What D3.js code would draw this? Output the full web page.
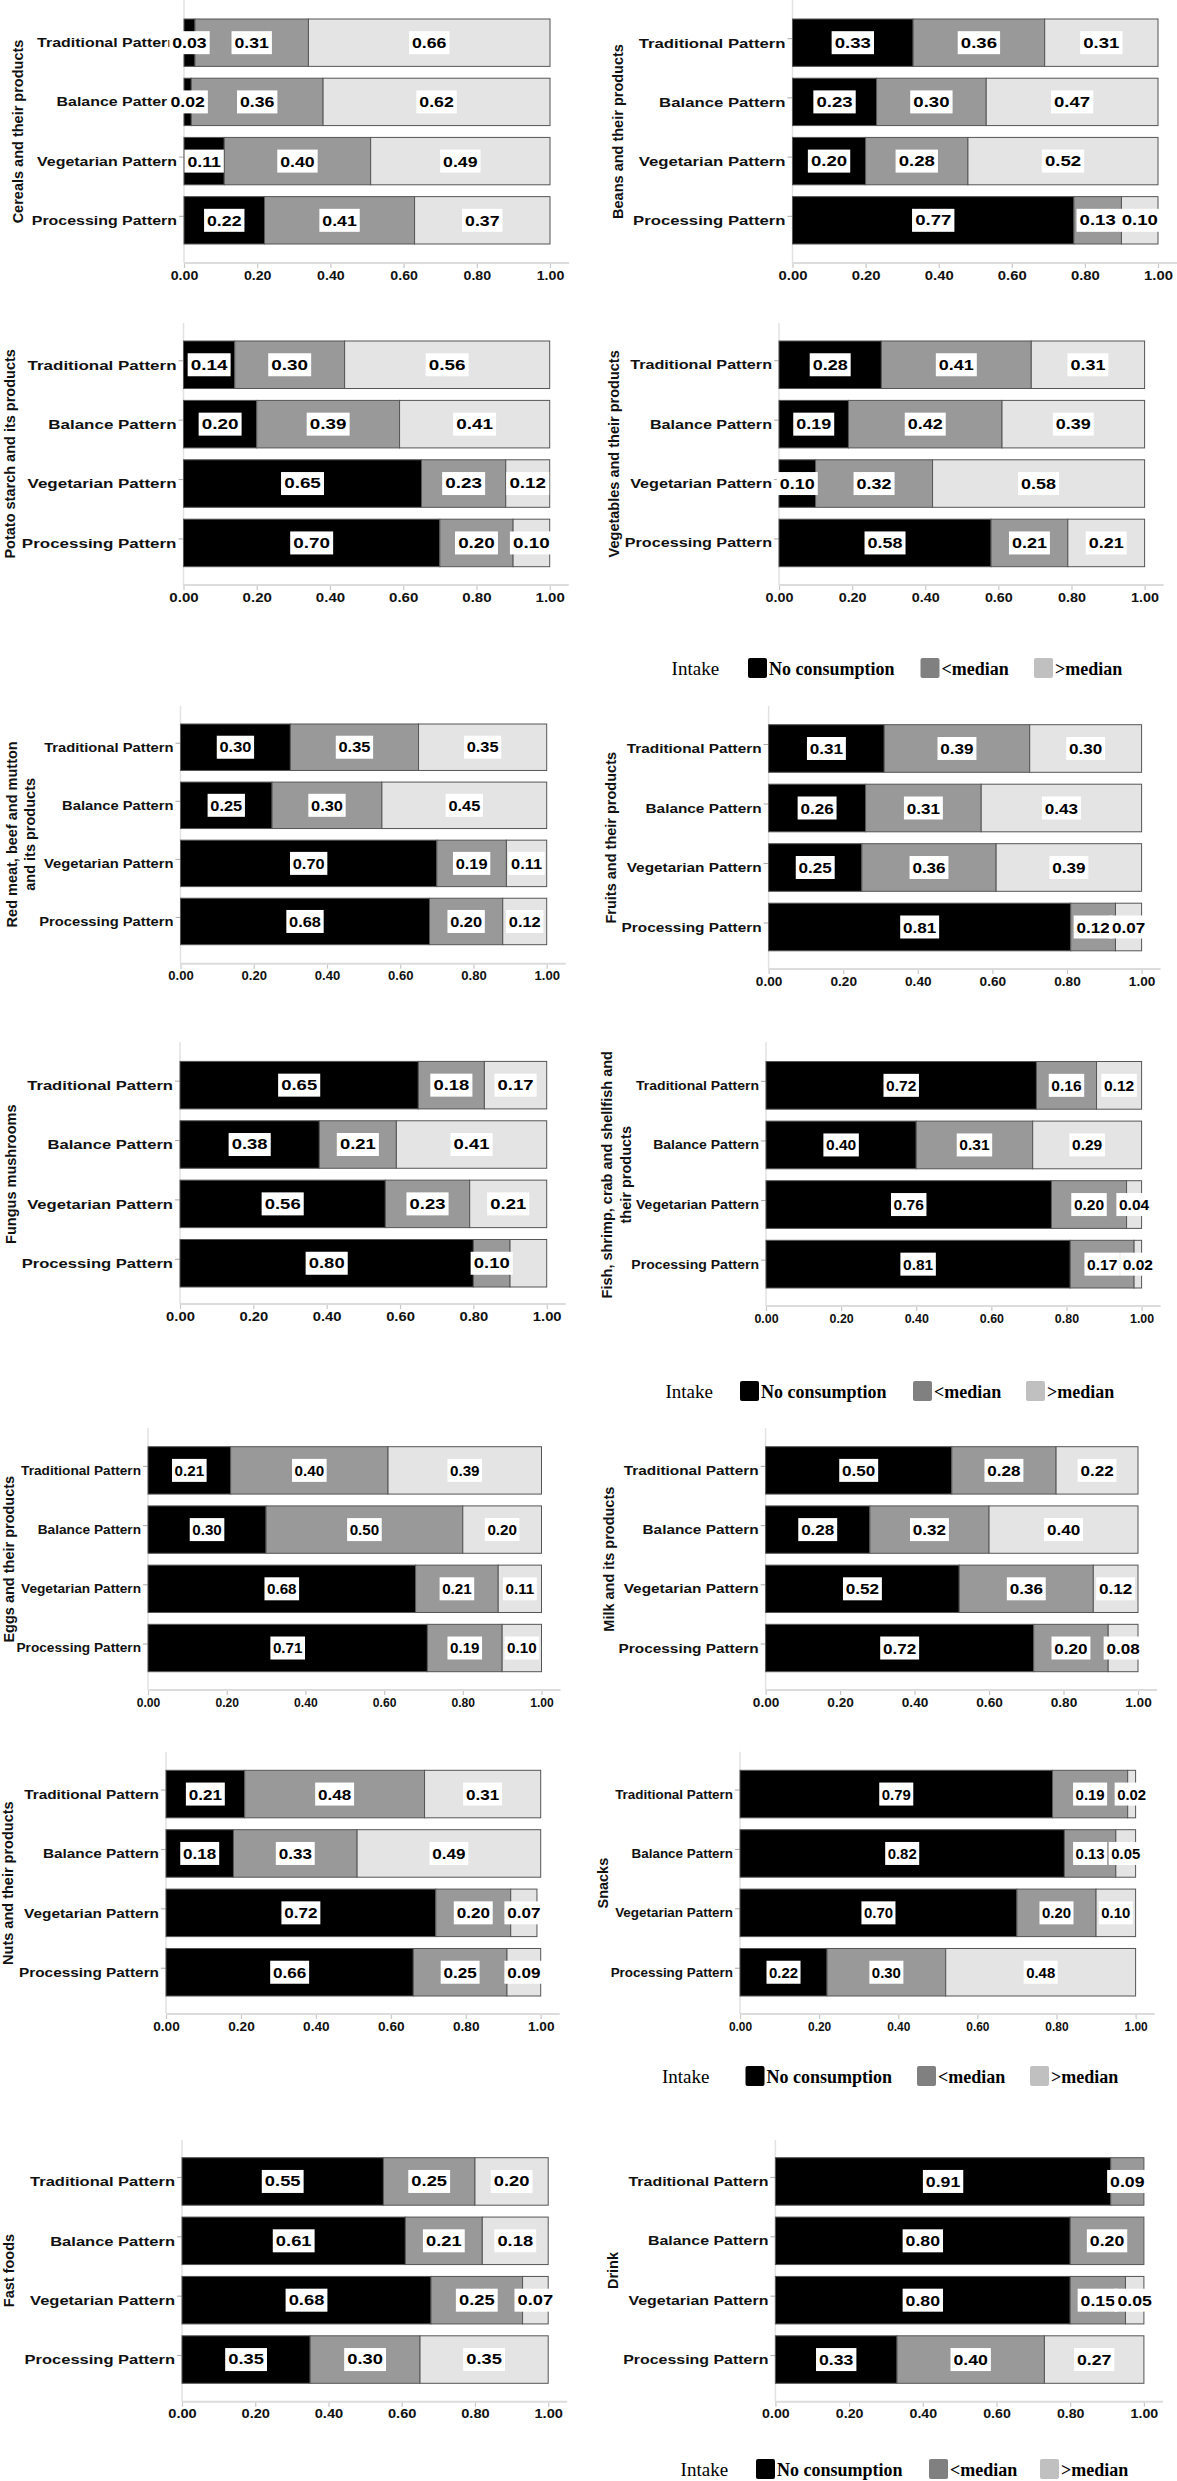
<!DOCTYPE html>
<html><head><meta charset="utf-8">
<script src="https://cdn.jsdelivr.net/npm/d3@7"></script>
<style>body{margin:0;background:#fff} svg{display:block}</style>
</head><body>
<svg id="chart" width="1177" height="2481"></svg>
<script>
// ---------------- DATA ----------------
const patterns = ["Traditional Pattern","Balance Pattern","Vegetarian Pattern","Processing Pattern"];
const intakeLevels = ["No consumption","<median",">median"];
const xTicks = [0,0.2,0.4,0.6,0.8,1.0];
const foodGroups = [
  "Cereals and their products",
  "Beans and their products",
  "Potato starch and its products",
  "Vegetables and their products",
  "Red meat, beef and mutton\nand its products",
  "Fruits and their products",
  "Fungus mushrooms",
  "Fish, shrimp, crab and shellfish and\ntheir products",
  "Eggs and their products",
  "Milk and its products",
  "Nuts and their products",
  "Snacks",
  "Fast foods",
  "Drink"
];
// rows: Traditional, Balance, Vegetarian, Processing ; columns: No consumption, <median, >median
const cereals    = [[0.03,0.31,0.66],[0.02,0.36,0.62],[0.11,0.40,0.49],[0.22,0.41,0.37]];
const beans      = [[0.33,0.36,0.31],[0.23,0.30,0.47],[0.20,0.28,0.52],[0.77,0.13,0.10]];
const potato     = [[0.14,0.30,0.56],[0.20,0.39,0.41],[0.65,0.23,0.12],[0.70,0.20,0.10]];
const vegetables = [[0.28,0.41,0.31],[0.19,0.42,0.39],[0.10,0.32,0.58],[0.58,0.21,0.21]];
const redMeat    = [[0.30,0.35,0.35],[0.25,0.30,0.45],[0.70,0.19,0.11],[0.68,0.20,0.12]];
const fruits     = [[0.31,0.39,0.30],[0.26,0.31,0.43],[0.25,0.36,0.39],[0.81,0.12,0.07]];
const fungus     = [[0.65,0.18,0.17],[0.38,0.21,0.41],[0.56,0.23,0.21],[0.80,0.10,0.10]];
const fish       = [[0.72,0.16,0.12],[0.40,0.31,0.29],[0.76,0.20,0.04],[0.81,0.17,0.02]];
const eggs       = [[0.21,0.40,0.39],[0.30,0.50,0.20],[0.68,0.21,0.11],[0.71,0.19,0.10]];
const milk       = [[0.50,0.28,0.22],[0.28,0.32,0.40],[0.52,0.36,0.12],[0.72,0.20,0.08]];
const nuts       = [[0.21,0.48,0.31],[0.18,0.33,0.49],[0.72,0.20,0.07],[0.66,0.25,0.09]];
const snacks     = [[0.79,0.19,0.02],[0.82,0.13,0.05],[0.70,0.20,0.10],[0.22,0.30,0.48]];
const fastFoods  = [[0.55,0.25,0.20],[0.61,0.21,0.18],[0.68,0.25,0.07],[0.35,0.30,0.35]];
const drink      = [[0.91,0.09,0.00],[0.80,0.20,0.00],[0.80,0.15,0.05],[0.33,0.40,0.27]];
const panelValues = [cereals,beans,potato,vegetables,redMeat,fruits,fungus,fish,eggs,milk,nuts,snacks,fastFoods,drink];
// segments whose value label is not printed in the original: [panel index, row, level]
const unlabeled = [[6,3,2]];

// ---------------- LAYOUT ----------------
const layout = [
  {x0:184,  x1:550,  yTop:19,    yBot:244,   axisY:263,   yAxisTop:0,      titleX:[18],       labelW:140},
  {x0:792.5,x1:1158, yTop:19,    yBot:244,   axisY:263,   yAxisTop:0,      titleX:[618],      labelW:147},
  {x0:183.5,x1:549.7,yTop:341,   yBot:566.7, axisY:585,   yAxisTop:323,    titleX:[9.5],      labelW:149},
  {x0:779,  x1:1144.6,yTop:341,  yBot:566.7, axisY:585,   yAxisTop:323,    titleX:[614],      labelW:142},
  {x0:180.5,x1:546.7,yTop:724,   yBot:944.7, axisY:963.7, yAxisTop:706,    titleX:[12,29.5],  labelW:129.5},
  {x0:768.6,x1:1141.6,yTop:724.7,yBot:950.8, axisY:969,   yAxisTop:706,    titleX:[611],      labelW:135},
  {x0:180,  x1:546.7,yTop:1061.4,yBot:1287,  axisY:1304,  yAxisTop:1042,   titleX:[11.3],     labelW:146},
  {x0:766,  x1:1141.6,yTop:1061.5,yBot:1288, axisY:1306,  yAxisTop:1042,   titleX:[607,626],  labelW:123},
  {x0:148,  x1:541.5,yTop:1446.7,yBot:1671.7,axisY:1690,  yAxisTop:1428,   titleX:[8.5],      labelW:120},
  {x0:765.6,x1:1138, yTop:1446.7,yBot:1671.7,axisY:1690,  yAxisTop:1428,   titleX:[609],      labelW:135},
  {x0:166,  x1:540.7,yTop:1770.3,yBot:1996,  axisY:2014,  yAxisTop:1751.7, titleX:[8.3],      labelW:135},
  {x0:740,  x1:1135.6,yTop:1770.3,yBot:1996, axisY:2014,  yAxisTop:1751.7, titleX:[602.5],    labelW:118},
  {x0:182,  x1:548.2,yTop:2157.7,yBot:2383.3,axisY:2401.7,yAxisTop:2140,   titleX:[9],        labelW:145},
  {x0:775.4,x1:1143.9,yTop:2157.7,yBot:2383.3,axisY:2401.7,yAxisTop:2140,  titleX:[613],      labelW:140}
];
const legends = [
  {cy:668,  intakeX:671.6, sw:[748,920.5,1034]},
  {cy:1391, intakeX:665.5, sw:[740,913,1026]},
  {cy:2076, intakeX:662,   sw:[745.5,917,1030]},
  {cy:2469, intakeX:680.6, sw:[756,929,1040]}
];

const SANS = "'Liberation Sans', Arial, Helvetica, sans-serif";
const SERIF = "'Liberation Serif', 'Times New Roman', serif";
const segFill = ["#000000","#999999","#e4e4e4"];
const legFill = ["#000000","#808080","#c0c0c0"];

const svg = d3.select("#chart");
svg.append("rect").attr("width",1177).attr("height",2481).attr("fill","#fff");

const meas = svg.append("text").attr("font-family",SANS).attr("font-weight","bold")
  .attr("font-size",13.5).text("Traditional Pattern");
const natW = meas.node().getComputedTextLength();
meas.remove();

const fmt = d3.format(".2f");
const stack = d3.stack().keys([0,1,2]);

panelValues.forEach((vals, pi) => {
  const L = layout[pi];
  const sx = L.labelW / natW;
  const x = d3.scaleLinear().domain([0,1]).range([L.x0, L.x1]);
  const y = d3.scaleBand().domain(patterns).range([L.yTop, L.yBot]).paddingInner(0.2).paddingOuter(0);
  const bw = y.bandwidth();
  const g = svg.append("g");

  // vertical axis line
  g.append("line").attr("x1",L.x0).attr("x2",L.x0).attr("y1",L.yAxisTop).attr("y2",L.axisY)
    .attr("stroke","#e2e2e2").attr("stroke-width",1.5);

  // x axis
  const ax = g.append("g").attr("transform",`translate(0,${L.axisY})`)
    .call(d3.axisBottom(x).tickValues(xTicks).tickFormat(fmt).tickSize(5).tickSizeOuter(0));
  ax.select(".domain").remove();
  ax.append("line").attr("x1",L.x0).attr("x2",Math.min(L.x1+19,1177)).attr("y1",0).attr("y2",0)
    .attr("stroke","#dcdcdc").attr("stroke-width",2);
  ax.selectAll(".tick line").attr("stroke","#c8c8c8").attr("stroke-width",1.2);
  ax.selectAll(".tick text").attr("font-family",SANS).attr("font-weight","bold")
    .attr("font-size",12).attr("fill","#111").attr("transform",`scale(${sx},1)`);

  // category labels + ticks
  patterns.forEach(pat => {
    const yc = y(pat) + bw/2;
    g.append("line").attr("x1",L.x0-5).attr("x2",L.x0).attr("y1",yc-4).attr("y2",yc-4)
      .attr("stroke","#aaa").attr("stroke-width",1);
    g.append("text").attr("transform",`translate(${L.x0-7},${yc}) scale(${sx},1)`)
      .attr("text-anchor","end").attr("dominant-baseline","central")
      .attr("font-family",SANS).attr("font-weight","bold").attr("font-size",13.5)
      .attr("fill","#111").text(pat);
  });

  // stacked segments
  const series = stack(vals);
  series.forEach((s, k) => {
    s.forEach((d, r) => {
      if (d[1] - d[0] <= 0) return;
      g.append("rect").attr("x",x(d[0])).attr("y",y(patterns[r]))
        .attr("width",x(d[1])-x(d[0])).attr("height",bw)
        .attr("fill",segFill[k]).attr("stroke","#555").attr("stroke-width",1);
    });
  });
  // value labels
  series.forEach((s, k) => {
    s.forEach((d, r) => {
      const v = vals[r][k];
      if (v <= 0) return;
      if (unlabeled.some(u => u[0]===pi && u[1]===r && u[2]===k)) return;
      const cx = x((d[0]+d[1])/2), cy = y(patterns[r]) + bw/2;
      const lg = g.append("g").attr("transform",`translate(${cx},${cy}) scale(${sx},1)`);
      const rc = lg.append("rect").attr("fill","#fff");
      const t = lg.append("text").attr("text-anchor","middle").attr("dominant-baseline","central")
        .attr("font-family",SANS).attr("font-weight","bold").attr("font-size",15)
        .attr("fill","#000").text(fmt(v));
      const tw = t.node().getComputedTextLength();
      rc.attr("x",-tw/2-2.5).attr("y",-11.5).attr("width",tw+5).attr("height",23);
    });
  });

  // title
  const lines = foodGroups[pi].split("\n");
  const ymid = (L.yTop + L.yBot)/2;
  lines.forEach((ln, j) => {
    g.append("text").attr("transform",`translate(${L.titleX[j]},${ymid}) rotate(-90)`)
      .attr("text-anchor","middle").attr("dominant-baseline","central")
      .attr("font-family",SANS).attr("font-weight","bold").attr("font-size",14.5)
      .attr("fill","#111").text(ln);
  });
});

// legends
legends.forEach(lg => {
  const g = svg.append("g");
  g.append("text").attr("x",lg.intakeX).attr("y",lg.cy+6.5)
    .attr("font-family",SERIF).attr("font-size",19).attr("fill","#000").text("Intake");
  intakeLevels.forEach((lab, k) => {
    g.append("rect").attr("x",lg.sw[k]).attr("y",lg.cy-10).attr("width",19).attr("height",20)
      .attr("rx",2).attr("fill",legFill[k]);
    g.append("text").attr("x",lg.sw[k]+21).attr("y",lg.cy+6.5)
      .attr("font-family",SERIF).attr("font-weight","bold").attr("font-size",18)
      .attr("fill","#000").text(lab);
  });
});
</script>
</body></html>
